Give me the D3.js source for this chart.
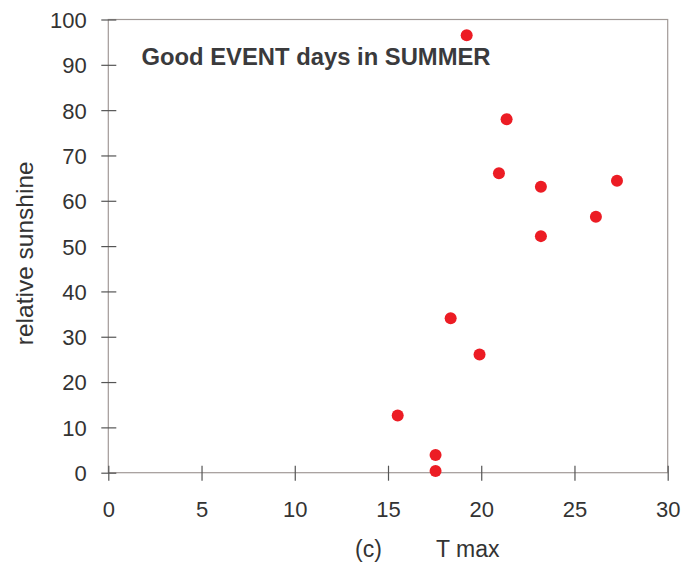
<!DOCTYPE html>
<html><head><meta charset="utf-8">
<script src="https://cdn.jsdelivr.net/npm/d3@7"></script>
<style>body{margin:0;background:#fff}svg{display:block}text{font-family:"Liberation Sans",Arial,sans-serif}</style>
</head><body><svg id="c" width="684" height="567"></svg>
<script>
const tmax = [19.22, 21.36, 20.95, 23.2, 27.28, 26.15, 23.2, 18.36, 19.91, 15.52, 17.55, 17.55];
const sunshine = [96.5, 78.0, 66.1, 63.1, 64.4, 56.5, 52.2, 34.1, 26.1, 12.6, 3.9, 0.4];
const xTicks = [0, 5, 10, 15, 20, 25, 30];
const yTicks = [0, 10, 20, 30, 40, 50, 60, 70, 80, 90, 100];

const svg = d3.select("#c");
const L = 108.3, R = 667.7, T = 19.5, B = 472.7;
const x = d3.scaleLinear().domain([0, 30]).range([L, R]);
const y = d3.scaleLinear().domain([0, 100]).range([B, T]);

// frame
svg.append("rect").attr("x", L).attr("y", T).attr("width", R - L).attr("height", B - T)
  .attr("fill", "none").attr("stroke", "#a19a97").attr("stroke-width", 1.2);

const xAxis = svg.append("g").attr("transform", `translate(0,${B})`)
  .call(d3.axisBottom(x).tickValues(xTicks).tickSize(0).tickPadding(0).tickFormat(d3.format("d")));
xAxis.select(".domain").remove();
xAxis.selectAll(".tick line").attr("y1", -7).attr("y2", 8).attr("stroke", "#555").attr("stroke-width", 1.2);
xAxis.selectAll(".tick text").attr("y", 44).attr("dy", null).attr("font-size", 22).attr("fill", "#333");

const yAxis = svg.append("g").attr("transform", `translate(${L},0)`)
  .call(d3.axisLeft(y).tickValues(yTicks).tickSize(0).tickPadding(0).tickFormat(d3.format("d")));
yAxis.select(".domain").remove();
yAxis.selectAll(".tick line").attr("x1", -7).attr("x2", 8).attr("stroke", "#555").attr("stroke-width", 1.2);
yAxis.selectAll(".tick text").attr("x", -21.5).attr("dy", "0.36em").attr("font-size", 22).attr("fill", "#333");

// points
svg.append("g").selectAll("circle").data(tmax.map((d, i) => [d, sunshine[i]])).join("circle")
  .attr("cx", d => x(d[0])).attr("cy", d => y(d[1])).attr("r", 6).attr("fill", "#ec1c24");

// texts
svg.append("text").attr("x", 141.5).attr("y", 65).attr("font-size", 23.8).attr("font-weight", "bold")
  .attr("fill", "#3a3a3c").text("Good EVENT days in SUMMER");
svg.append("text").attr("x", 355).attr("y", 557).attr("font-size", 23).attr("fill", "#333").text("(c)");
svg.append("text").attr("x", 436).attr("y", 557).attr("font-size", 23).attr("fill", "#333").text("T max");
svg.append("text").attr("transform", "translate(33.3,253.3) rotate(-90)").attr("text-anchor", "middle")
  .attr("font-size", 24.5).attr("fill", "#333").text("relative sunshine");
</script></body></html>
